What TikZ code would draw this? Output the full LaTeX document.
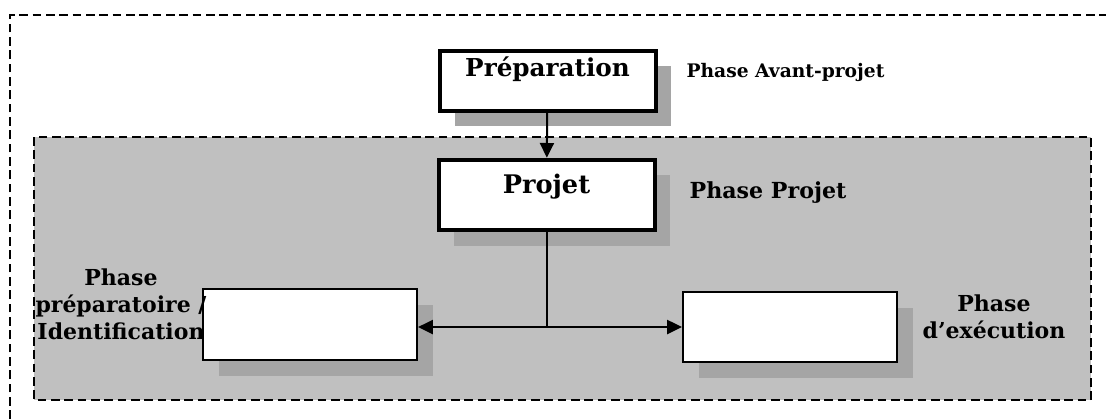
\documentclass[tikz,border=0pt]{standalone}
\usepackage{fontspec}
\setmainfont{DejaVu Serif}
\usepackage{tikz}
\usetikzlibrary{calc,shadows,arrows.meta,positioning}
\definecolor{zonegray}{RGB}{192,192,192}
\definecolor{shadegray}{RGB}{165,165,165}

\begin{document}
\begin{tikzpicture}[x=0.75pt,y=-0.75pt]
    \tikzstyle{phasebox}=[draw,fill=white,line width=3pt,minimum width=162pt,inner ysep=1pt,drop shadow={shadow xshift=11.5pt,shadow yshift=-11.5pt,fill=shadegray,opacity=1},font=\bfseries\fontsize{18.5}{22}\selectfont]
    \tikzstyle{subbox}=[draw,fill=white,line width=1.7pt,minimum width=160.5pt,minimum height=53pt,drop shadow={shadow xshift=12pt,shadow yshift=-12pt,fill=shadegray,opacity=1}]
    \tikzstyle{phaselabel}=[font=\bfseries\fontsize{14}{17}\selectfont,align=center,inner sep=0pt,anchor=base]
    \tikzstyle{biglabel}=[phaselabel,font=\bfseries\fontsize{16.5}{20}\selectfont]
    \tikzstyle{zone}=[line width=1.5pt,dash pattern=on 6.5pt off 3.5pt]
    \tikzstyle{link}=[line width=1.5pt]
    \tikzstyle{tip}=[link,-{Triangle[length=11pt,width=10.5pt]}]

    \useasboundingbox (0,0) rectangle (1106,419);
    % dashed zones
    \draw[zone] (10,419) |- (1106,15);
    \draw[zone,fill=zonegray] (34,137) rectangle (1091,400);

    % boxes
    \node[phasebox,minimum height=45pt,text height=14pt,text depth=20pt] (prep) at (547.5,80.5) {Préparation};
    \node[phasebox,minimum height=53pt,text height=14pt,text depth=17pt,font=\bfseries\fontsize{19.2}{22}\selectfont] (projet) at (546.5,195) {Projet};
    \node[subbox] (ident) at (310,324.5) {};
    \node[subbox,minimum height=52.5pt] (exec) at (790,327) {};

    % labels
    \node[phaselabel] (lavant) at (785.5,77) {Phase Avant-projet};
    \node[phaselabel,font=\bfseries\fontsize{16.6}{20}\selectfont] (lprojet) at (768,198) {Phase Projet};
    \node[biglabel] (lident) at (121,339) {Phase\\préparatoire /\\Identification};
    \node[biglabel] (lexec) at (994,338) {Phase\\d’exécution};

    % connectors
    \coordinate (split) at (projet.south |- exec.west);
    \draw[tip] (prep) -- (projet);
    \draw[link] (projet.south) -- (split);
    \draw[tip] (split) -- (split -| ident.east);
    \draw[tip] (split) -- (split -| exec.west);
\end{tikzpicture}
\end{document}
